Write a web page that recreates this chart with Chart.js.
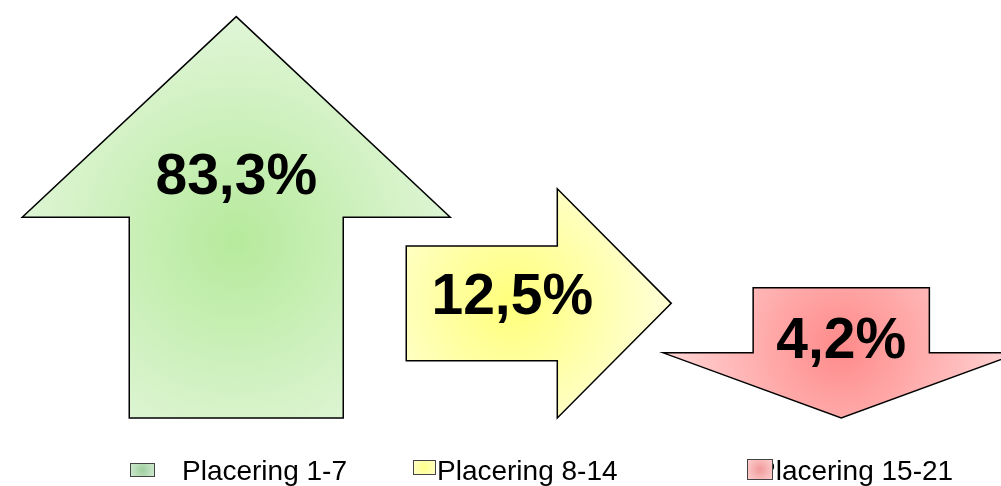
<!DOCTYPE html>
<html><head><meta charset="utf-8">
<script src="https://cdn.jsdelivr.net/npm/chart.js@4.4.1/dist/chart.umd.min.js"></script>
<style>html,body{margin:0;padding:0;background:#fff;overflow:hidden}#wrap{width:1001px;height:486px;position:relative}</style>
</head><body><div id="wrap"><canvas id="c" width="1001" height="486"></canvas></div>
<script>
// ---- data ----
const categories = ['Placering 1-7', 'Placering 8-14', 'Placering 15-21'];
const shares = [83.3, 12.5, 4.2];
const valueLabels = ['83,3%', '12,5%', '4,2%'];

// ---- style ----
const directions = ['up', 'right', 'down'];
const arrowWidths = [428, 265, 356];
const shaftRatio = [0.5, 0.5, 0.495];
const headRatio = [0.5, 0.43, 0.5];
const gradCenter = ['#b6ea9c', '#ffff7a', '#ff8a8a'];
const gradEdge = ['#e2f6da', '#ffffd2', '#ffd6d6'];
const legendBoxX = [130, 413, 747];
const legendBoxY = [463, 460, 459];
const legendBoxW = [25, 23, 26];
const legendBoxH = [14, 15, 21];
const legendTextX = [182, 437, 757];
const legendFill = ['#9fd09f', '#ffff88', '#f09a9a'];
const legendFillEdge = ['#d6ecd6', '#ffffd0', '#ffd0d0'];
const FONT = '"Liberation Sans", Arial, sans-serif';

function arrowPath(ctx, dir, cx, top, base, W, i) {
  const h = base - top;
  ctx.beginPath();
  if (dir === 'up') {
    const sw = W * shaftRatio[i], hh = h * headRatio[i];
    ctx.moveTo(cx, top);
    ctx.lineTo(cx + W / 2, top + hh);
    ctx.lineTo(cx + sw / 2, top + hh);
    ctx.lineTo(cx + sw / 2, base);
    ctx.lineTo(cx - sw / 2, base);
    ctx.lineTo(cx - sw / 2, top + hh);
    ctx.lineTo(cx - W / 2, top + hh);
  } else if (dir === 'right') {
    const left = cx - W / 2, right = cx + W / 2, mid = (top + base) / 2;
    const bh = h * shaftRatio[i], hl = W * headRatio[i];
    ctx.moveTo(left, mid - bh / 2);
    ctx.lineTo(right - hl, mid - bh / 2);
    ctx.lineTo(right - hl, top);
    ctx.lineTo(right, mid);
    ctx.lineTo(right - hl, base);
    ctx.lineTo(right - hl, mid + bh / 2);
    ctx.lineTo(left, mid + bh / 2);
  } else {
    const sw = W * shaftRatio[i], sh = h * (1 - headRatio[i]);
    ctx.moveTo(cx - sw / 2, top);
    ctx.lineTo(cx + sw / 2, top);
    ctx.lineTo(cx + sw / 2, top + sh);
    ctx.lineTo(cx + W / 2, top + sh);
    ctx.lineTo(cx, base);
    ctx.lineTo(cx - W / 2, top + sh);
    ctx.lineTo(cx - sw / 2, top + sh);
  }
  ctx.closePath();
}

const arrowPlugin = {
  id: 'arrows',
  afterDatasetsDraw(chart) {
    const ctx = chart.ctx;
    const meta = chart.getDatasetMeta(0);
    meta.data.forEach((bar, i) => {
      const cx = bar.x, top = bar.y, base = bar.base, W = arrowWidths[i];
      const h = base - top;
      const dir = directions[i];
      let gx = cx, gy = top + h * 0.56, r = Math.max(W, h) * 0.55;
      if (dir === 'right') { gx = cx - W * 0.1; gy = (top + base) / 2; r = W * 0.55; }
      if (dir === 'down') { gy = top + h * 0.45; r = W * 0.5; }
      const g = ctx.createRadialGradient(gx, gy, 0, gx, gy, r);
      g.addColorStop(0, gradCenter[i]);
      g.addColorStop(1, gradEdge[i]);
      ctx.save();
      arrowPath(ctx, dir, cx, top, base, W, i);
      ctx.fillStyle = g;
      ctx.fill();
      ctx.lineWidth = 1.5;
      ctx.strokeStyle = '#000';
      ctx.lineJoin = 'miter';
      ctx.stroke();
      // value label
      ctx.fillStyle = '#000';
      ctx.font = 'bold 57px ' + FONT;
      ctx.textAlign = 'center';
      ctx.textBaseline = 'alphabetic';
      let lx = cx, ly;
      if (dir === 'up') ly = top + h * 0.443;
      else if (dir === 'right') { lx = cx - W / 2 + W * 0.4; ly = (top + base) / 2 + 11; }
      else ly = top + h * 0.54;
      ctx.fillText(valueLabels[i], lx, ly);
      ctx.restore();
    });
  },
  afterDraw(chart) {
    const ctx = chart.ctx;
    ctx.save();
    categories.forEach((lab, i) => {
      ctx.fillStyle = '#000';
      ctx.font = '28px ' + FONT;
      ctx.textAlign = 'left';
      ctx.textBaseline = 'alphabetic';
      ctx.fillText(lab, legendTextX[i], 480);
      const bx = legendBoxX[i], by = legendBoxY[i], bw = legendBoxW[i], bh = legendBoxH[i];
      const g = ctx.createRadialGradient(bx + bw / 2, by + bh / 2, 0, bx + bw / 2, by + bh / 2, bw * 0.6);
      g.addColorStop(0, legendFill[i]);
      g.addColorStop(1, legendFillEdge[i]);
      ctx.fillStyle = g;
      ctx.fillRect(bx, by, bw, bh);
      ctx.lineWidth = 1;
      ctx.strokeStyle = '#444';
      ctx.strokeRect(bx + 0.5, by + 0.5, bw - 1, bh - 1);
    });
    ctx.restore();
  }
};

new Chart(document.getElementById('c'), {
  type: 'bar',
  data: {
    labels: categories,
    datasets: [{
      label: 'Andel',
      data: shares,
      backgroundColor: 'rgba(0,0,0,0)',
      borderWidth: 0,
      barPercentage: 1,
      categoryPercentage: 1
    }]
  },
  options: {
    responsive: false,
    animation: false,
    layout: { padding: { left: 85, right: 8.5, top: 0, bottom: 68 } },
    plugins: { legend: { display: false }, tooltip: { enabled: false } },
    scales: {
      x: { display: false },
      y: { type: 'logarithmic', min: 1, max: 100, display: false }
    }
  },
  plugins: [arrowPlugin]
});
</script>
</body></html>
